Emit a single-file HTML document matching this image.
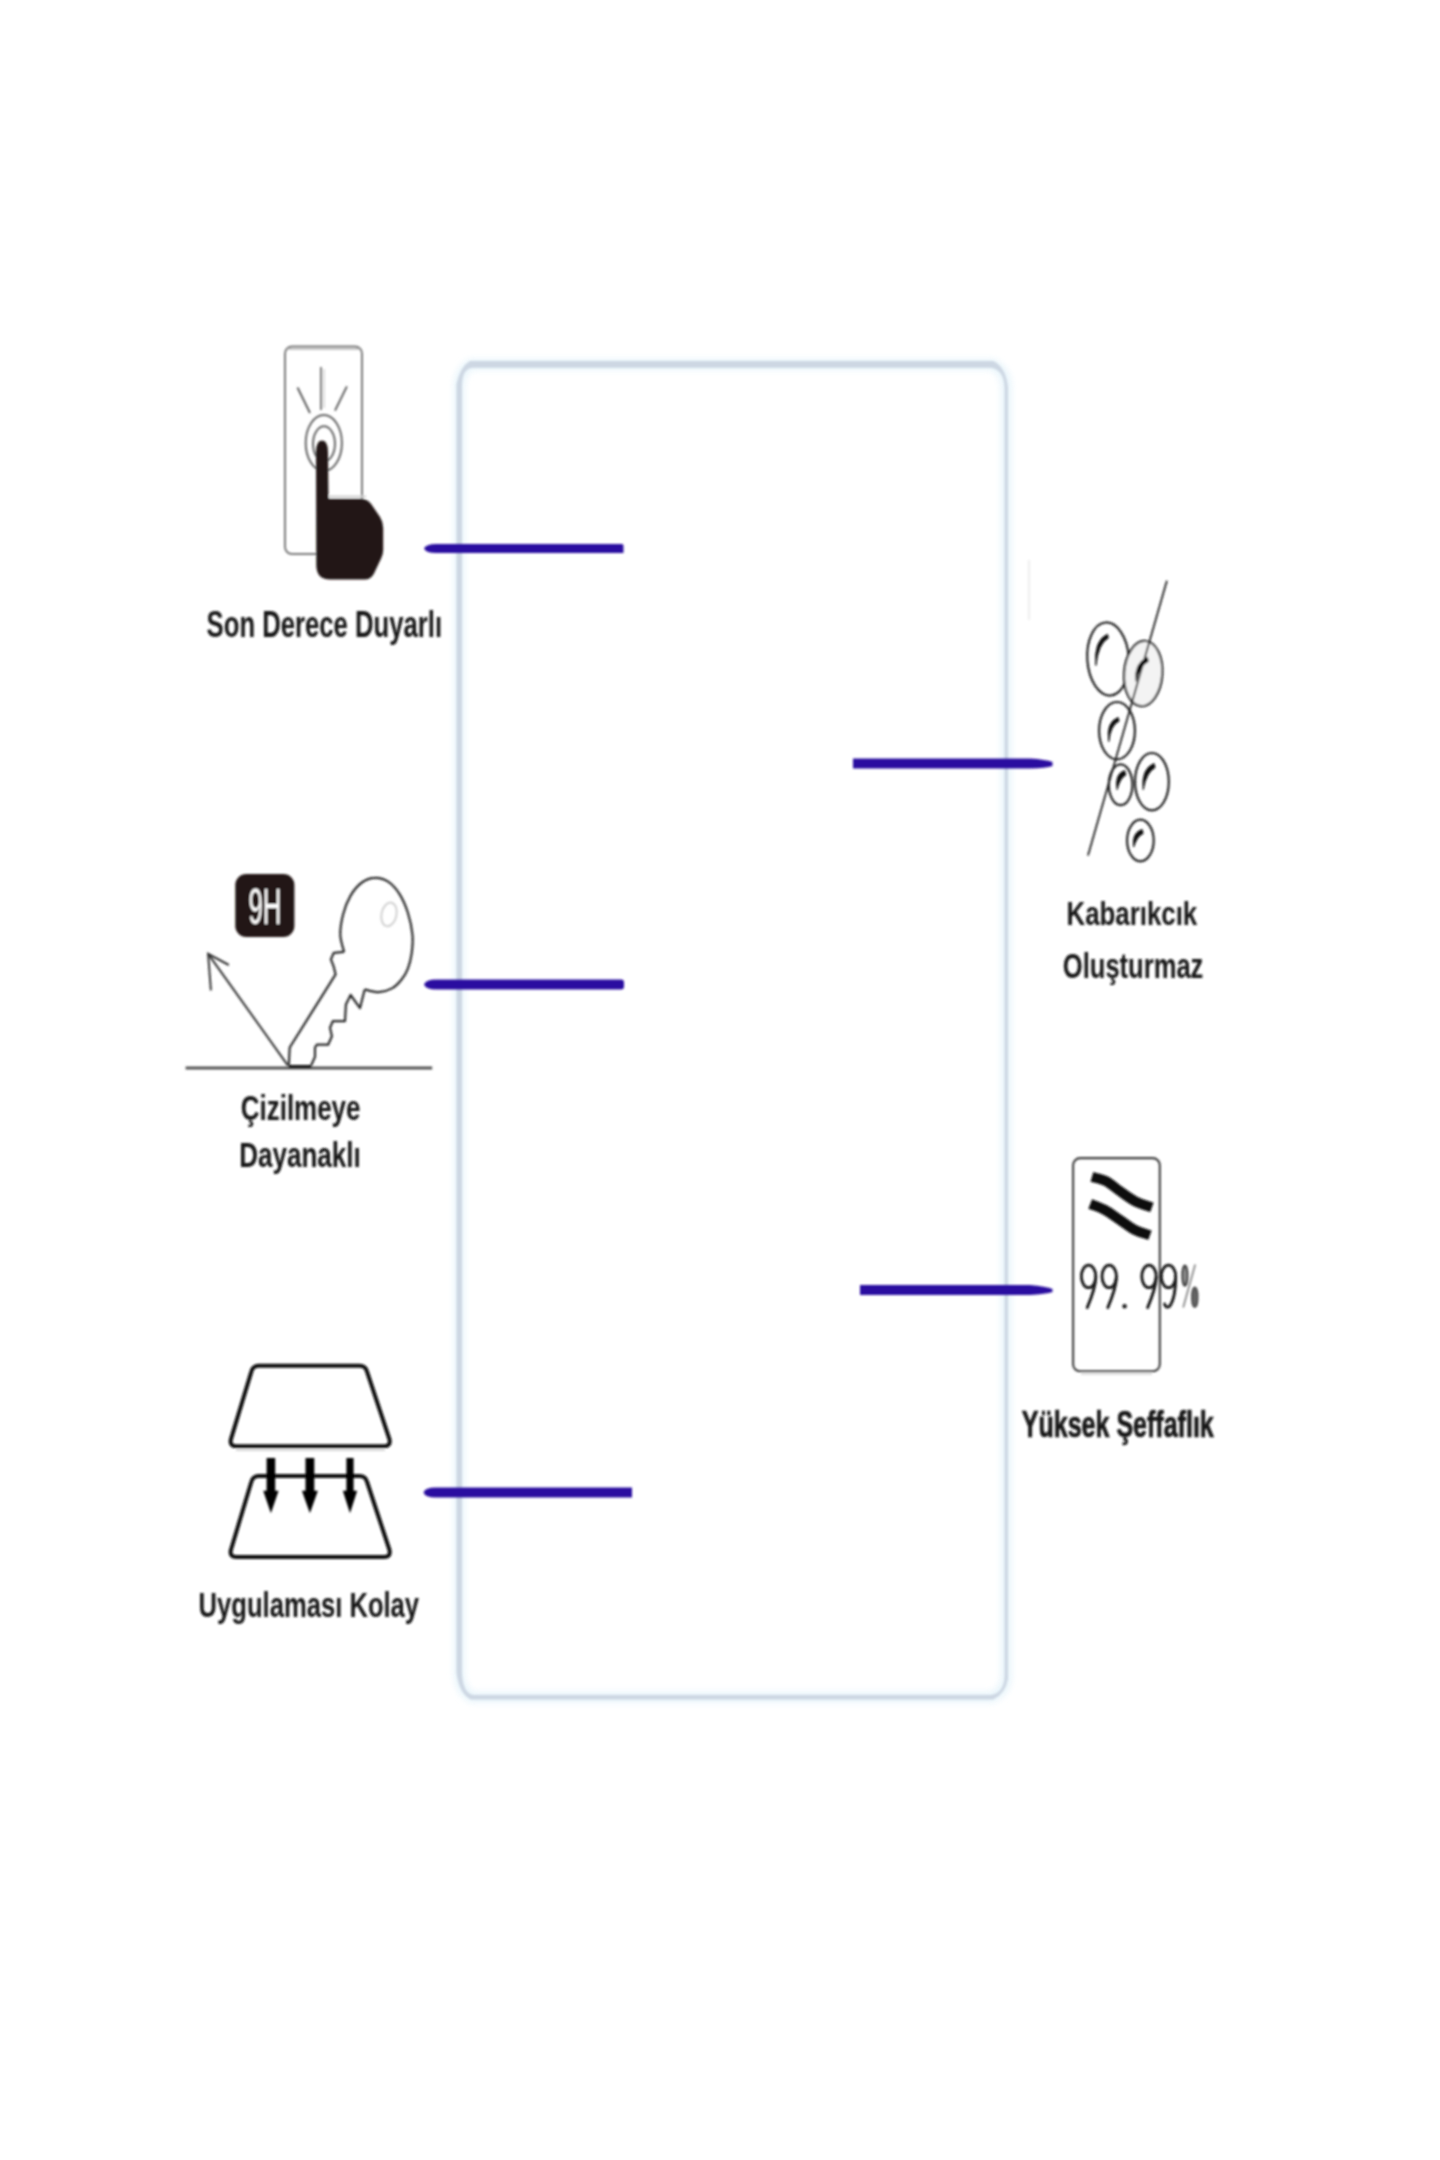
<!DOCTYPE html>
<html lang="tr">
<head>
<meta charset="utf-8">
<title>Ekran Koruyucu Özellikleri</title>
<style>
html,body{margin:0;padding:0;background:#ffffff;}
body{width:1440px;height:2160px;overflow:hidden;position:relative;font-family:"Liberation Sans",sans-serif;}
svg{position:absolute;left:0;top:0;display:block;}
.lbl{font-family:"Liberation Sans",sans-serif;font-weight:bold;fill:#161616;}
</style>
</head>
<body>
<svg width="1440" height="2160" viewBox="0 0 1440 2160">
<defs>
<filter id="soft" x="-5%" y="-5%" width="110%" height="110%"><feGaussianBlur stdDeviation="0.8"/></filter>
<filter id="soft2" x="-5%" y="-50%" width="110%" height="200%"><feGaussianBlur stdDeviation="0.9"/></filter>
<filter id="soft3" x="-5%" y="-5%" width="110%" height="110%"><feGaussianBlur stdDeviation="1.1"/></filter>
<filter id="glow" x="-5%" y="-5%" width="110%" height="110%"><feGaussianBlur stdDeviation="3"/></filter>
</defs>
<rect width="1440" height="2160" fill="#ffffff"/>

<!-- GLASS -->
<g id="glass">
<path d="M471,364.5 H992.5 Q1006.2,371 1006.2,387 V1678 Q1005.5,1690.5 992,1697.3 H472 Q459.5,1690.5 459.2,1673 V385 Q460,371 471,364.5 Z" fill="none" stroke="#e6f4fb" stroke-width="11" filter="url(#glow)" opacity="0.85"/>
<path fill-rule="evenodd" fill="#cdd7e3" filter="url(#soft3)" d="M470,361 H993 Q1005.5,366.5 1007.9,387 V1679 Q1005.5,1693.5 993,1699.6 H471 Q459.5,1694 456.5,1673 V384 Q460.5,366.5 470,361 Z M472.5,367.7 H991 Q1004,369.5 1004.6,388 V1677 Q1003.5,1693 991,1695 H473.5 Q462.5,1693.5 462,1672 V386 Q462,368.5 472.5,367.7 Z"/>
<line x1="474" y1="362.6" x2="990" y2="362.6" stroke="#ffffff" stroke-width="2.4" opacity="0.4" filter="url(#soft3)"/>
<line x1="459.2" y1="388" x2="459.2" y2="1672" stroke="#ffffff" stroke-width="6" opacity="0.34" filter="url(#soft3)"/>
<line x1="1006.2" y1="392" x2="1006.2" y2="1672" stroke="#ffffff" stroke-width="4" opacity="0.12" filter="url(#soft3)"/>
<line x1="467.5" y1="467.5" x2="646" y2="467.5" stroke="#f3f5f7" stroke-width="3" filter="url(#soft3)"/>
</g>

<!-- BLUE LINES -->
<g id="lines" fill="#2a10a0" filter="url(#soft2)">
<path d="M424,548.5 Q426,544 436,544 H622 Q623.5,544 623.5,546 V553 H436 Q426,553 424,548.5 Z"/>
<path d="M424,984.5 Q426,979.5 436,979.5 H621 Q624,979.5 624,982.5 V986.5 Q624,989.5 621,989.5 H436 Q426,989.5 424,984.5 Z"/>
<path d="M423.5,1492.5 Q425,1487.5 436,1487.5 H632 V1497.5 H436 Q425,1497.5 423.5,1492.5 Z"/>
<path d="M853,758.5 H1030 Q1046,759.5 1052.5,762 V766 Q1046,768 1030,768.5 H853 Z"/>
<path d="M860,1285 H1030 Q1046,1286.5 1052.5,1289 V1292 Q1046,1294 1030,1295 H860 Z"/>
</g>

<!-- LABELS -->
<g id="labels" filter="url(#soft)">
<text class="lbl" x="206.6" y="636.9" font-size="37" textLength="235.5" lengthAdjust="spacingAndGlyphs">Son Derece Duyarlı</text>
<text class="lbl" x="240.8" y="1119.6" font-size="35.5" textLength="119.6" lengthAdjust="spacingAndGlyphs">Çizilmeye</text>
<text class="lbl" x="239.2" y="1166.9" font-size="35.5" textLength="121.5" lengthAdjust="spacingAndGlyphs">Dayanaklı</text>
<text class="lbl" x="198.6" y="1617.2" font-size="35" textLength="220.5" lengthAdjust="spacingAndGlyphs">Uygulaması Kolay</text>
<text class="lbl" x="1066.6" y="925.2" font-size="34" textLength="130.6" lengthAdjust="spacingAndGlyphs">Kabarıkcık</text>
<text class="lbl" x="1062.8" y="977.6" font-size="35.5" textLength="140.6" lengthAdjust="spacingAndGlyphs">Oluşturmaz</text>
<text class="lbl" x="1021.8" y="1437.4" font-size="36.5" textLength="192" lengthAdjust="spacingAndGlyphs" stroke="#151515" stroke-width="0.7">Yüksek Şeffaflık</text>
</g>

<!-- ICONS -->
<!--B:icon-touch-->
<g id="icon-touch" filter="url(#soft)">
<rect x="285" y="346.5" width="77" height="207.5" rx="7" ry="7" fill="none" stroke="#7a7a7a" stroke-width="2"/>
<line x1="287" y1="349" x2="360" y2="349" stroke="#b5b5b5" stroke-width="1.5"/>
<line x1="321" y1="367" x2="321" y2="410" stroke="#7a7a7a" stroke-width="2"/>
<line x1="324" y1="369" x2="324" y2="408" stroke="#d0d0d0" stroke-width="1.5"/>
<line x1="297.5" y1="387.5" x2="310" y2="413" stroke="#555" stroke-width="1.8"/>
<line x1="346.9" y1="386.3" x2="335" y2="410.6" stroke="#555" stroke-width="1.8"/>
<ellipse cx="323.8" cy="443" rx="18.1" ry="28" fill="none" stroke="#666" stroke-width="2"/>
<ellipse cx="324" cy="443.8" rx="11" ry="17.5" fill="none" stroke="#666" stroke-width="2"/>
<line x1="329" y1="496.6" x2="366" y2="496.6" stroke="#cfcfcf" stroke-width="2"/>
<path d="M316,452 Q316,440.5 322,440.5 Q328,440.5 328,452 L328.5,498.8 L361,498.8 Q367.5,499 371.5,504.5 L380,517 Q383.2,522 383.2,528 L383.2,550 Q383.2,554 381.3,558 L374,573.5 Q371,579.5 364.5,579.5 L330,579.5 Q316.3,579.5 316.3,565 Z" fill="#231815"/>
</g>
<!--E:icon-touch-->
<!--B:icon-key-->
<g id="icon-key" filter="url(#soft)">
<rect x="235.3" y="874" width="59.1" height="63" rx="11" ry="11" fill="#231815"/>
<text x="248.4" y="923.8" font-family="Liberation Sans, sans-serif" font-size="50" fill="#fff" textLength="33" lengthAdjust="spacingAndGlyphs">9H</text>
<line x1="185.6" y1="1068" x2="432.2" y2="1068" stroke="#555" stroke-width="3.2"/>
<line x1="288.8" y1="1066.5" x2="311.2" y2="1066.5" stroke="#111" stroke-width="3"/>
<path d="M287.8,1065.3 L208.1,953.8" fill="none" stroke="#333" stroke-width="2"/>
<path d="M228.8,965.0 L208.1,953.8 L210.9,990.3" fill="none" stroke="#333" stroke-width="2"/>
<path d="M288.8,1065.3 L289.7,1047.5 L335.6,974.4 L333.8,966.9 L330.9,959.4 L333.8,952.8 L344.1,951.9" fill="none" stroke="#2a2a2a" stroke-width="2.2" stroke-linejoin="round"/>
<path d="M344.1,951.9 C343.5,949.1 340.5,941.2 340.3,935.0 C340.1,928.8 341.4,921.0 343.1,914.4 C344.8,907.8 347.5,900.9 350.6,895.6 C353.7,890.3 357.8,885.5 361.9,882.5 C366.0,879.5 370.6,877.9 375.0,877.8 C379.4,877.6 384.0,878.9 388.1,881.6 C392.2,884.3 396.1,888.6 399.4,893.8 C402.7,898.9 405.6,905.6 407.8,912.5 C410.0,919.4 411.9,928.1 412.5,935.0 C413.1,941.9 412.4,948.2 411.6,953.8 C410.8,959.4 409.5,964.4 407.8,968.8 C406.1,973.2 403.9,976.7 401.2,980.0 C398.5,983.3 395.6,986.4 391.9,988.4 C388.2,990.4 383.3,992.0 378.8,992.2 C374.3,992.4 367.1,989.9 364.7,989.4" fill="none" stroke="#2a2a2a" stroke-width="2.2"/>
<path d="M364.7,989.4 L360.0,1008.1 L350.6,995.0 L345.9,1004.4 L345.0,1021.2 L332.8,1021.2 L330.0,1027.8 L331.9,1036.2 L328.1,1044.7 L316.9,1044.7 L315.0,1047.5 L315.0,1056.9 L311.2,1065.3" fill="none" stroke="#2a2a2a" stroke-width="2.2" stroke-linejoin="round"/>
<ellipse cx="389" cy="914.4" rx="7.5" ry="12" fill="none" stroke="#d2d2d2" stroke-width="2" transform="rotate(12 389 914.4)"/>
</g>
<!--E:icon-key-->
<!--B:icon-apply-->
<g id="icon-apply" filter="url(#soft)">
<path d="M258.8,1365.8 H359.6 Q365.6,1365.8 367.1,1371.8 L389.5,1439.3 Q391.0,1446.3 384.0,1446.3 H236.4 Q229.4,1446.3 230.9,1439.3 L251.3,1371.8 Q252.8,1365.8 258.8,1365.8 Z" fill="none" stroke="#111" stroke-width="4" stroke-linejoin="round"/>
<line x1="236" y1="1450.3" x2="385" y2="1450.3" stroke="#cfcfcf" stroke-width="1.6"/>
<path d="M258.8,1476 H359.6 Q365.6,1476 367.1,1482 L389.5,1550 Q391.0,1557 384.0,1557 H236.4 Q229.4,1557 230.9,1550 L251.3,1482 Q252.8,1476 258.8,1476 Z" fill="none" stroke="#111" stroke-width="4" stroke-linejoin="round"/>
<path d="M266.59999999999997,1458 H275.2 V1490.7 H278.59999999999997 L270.9,1513.3 L263.2,1490.7 H266.59999999999997 Z" fill="#000"/>
<path d="M305.5,1458 H314.29999999999995 V1490.7 H317.9 L309.9,1513.3 L301.9,1490.7 H305.5 Z" fill="#000"/>
<path d="M346.4,1458 H353.6 V1490.7 H357.2 L350,1513.3 L342.8,1490.7 H346.4 Z" fill="#000"/>
</g>
<!--E:icon-apply-->
<!--B:icon-bubbles-->
<g id="icon-bubbles" filter="url(#soft)">
<line x1="1029" y1="560" x2="1029" y2="620" stroke="#f0f0f0" stroke-width="2.5"/>
<ellipse cx="1108.1" cy="659.0" rx="20.8" ry="36.6" fill="none" stroke="#222" stroke-width="2.2" transform="rotate(-4 1108.1 659.0)"/>
<ellipse cx="1143.2" cy="673.6" rx="19.1" ry="32.7" fill="#f3f3f3" stroke="#222" stroke-width="2.2" transform="rotate(4 1143.2 673.6)"/>
<ellipse cx="1117.0" cy="730.7" rx="17.9" ry="28.7" fill="none" stroke="#222" stroke-width="2.2" transform="rotate(0 1117.0 730.7)"/>
<ellipse cx="1120.6" cy="784.8" rx="11.8" ry="20.4" fill="none" stroke="#222" stroke-width="2.2" transform="rotate(0 1120.6 784.8)"/>
<ellipse cx="1151.9" cy="781.7" rx="16.9" ry="28.7" fill="none" stroke="#222" stroke-width="2.2" transform="rotate(0 1151.9 781.7)"/>
<ellipse cx="1140.4" cy="840.5" rx="13.3" ry="20.8" fill="none" stroke="#222" stroke-width="2.2" transform="rotate(0 1140.4 840.5)"/>
<path d="M1166.9,580.8 L1088.0,855.6" fill="none" stroke="#222" stroke-width="1.8"/>
<path d="M1107.4,634.3 Q1093.7,640.3 1095.9,665.4 Q1098.3,643.3 1108.4,637.9 Z" fill="#111" stroke="#111" stroke-width="1" stroke-linejoin="round"/>
<path d="M1147.3,657.3 Q1133.9,663.3 1136.1,681.2 Q1139.1,666.7 1148.4,661.3 Z" fill="#111" stroke="#111" stroke-width="1" stroke-linejoin="round"/>
<path d="M1118.1,717.5 Q1105.9,722.1 1108.8,741.5 Q1110.5,725.1 1119.1,721.1 Z" fill="#111" stroke="#111" stroke-width="1" stroke-linejoin="round"/>
<path d="M1124.6,770.6 Q1114.5,773.8 1117.1,789.6 Q1120.2,777.5 1125.8,775.1 Z" fill="#111" stroke="#111" stroke-width="1" stroke-linejoin="round"/>
<path d="M1154.0,763.5 Q1141.1,768.8 1143.2,789.6 Q1146.3,772.2 1155.1,767.5 Z" fill="#111" stroke="#111" stroke-width="1" stroke-linejoin="round"/>
<path d="M1142.1,829.5 Q1131.8,832.6 1133.6,847.0 Q1137.0,836.0 1143.2,833.5 Z" fill="#111" stroke="#111" stroke-width="1" stroke-linejoin="round"/>
</g>
<!--E:icon-bubbles-->
<!--B:icon-clear-->
<g id="icon-clear" filter="url(#soft)">
<rect x="1073.1" y="1158.1" width="86.7" height="213.2" rx="7" ry="7" fill="none" stroke="#3c3c3c" stroke-width="2.1"/>
<line x1="1081" y1="1374" x2="1152" y2="1374" stroke="#dedede" stroke-width="2"/>
<path d="M1091.9,1176.9 C1094.3,1177.6 1101.5,1178.8 1106.2,1181.2 C1110.9,1183.6 1115.2,1187.9 1120.0,1191.2 C1124.8,1194.5 1129.7,1198.5 1135.0,1201.2 C1140.3,1203.9 1149.1,1206.5 1151.9,1207.5" fill="none" stroke="#111" stroke-width="10"/>
<path d="M1090.2,1204.0 C1092.7,1205.0 1100.0,1207.3 1105.0,1210.0 C1110.0,1212.7 1115.0,1216.7 1120.0,1220.0 C1125.0,1223.3 1130.0,1227.5 1135.0,1230.0 C1140.0,1232.5 1147.5,1234.3 1150.0,1235.2" fill="none" stroke="#111" stroke-width="10"/>
<ellipse cx="1088.6" cy="1276.4" rx="7.2" ry="11.3" fill="none" stroke="#151515" stroke-width="2.8"/><path d="M1095.8,1277.4 Q1095.3999999999999,1288.4 1087.1999999999998,1307.6" fill="none" stroke="#151515" stroke-width="2.8" stroke-linecap="round"/><ellipse cx="1109.2" cy="1276.4" rx="7.2" ry="11.3" fill="none" stroke="#151515" stroke-width="2.8"/><path d="M1116.4,1277.4 Q1116.0,1288.4 1107.8,1307.6" fill="none" stroke="#151515" stroke-width="2.8" stroke-linecap="round"/><circle cx="1124.6" cy="1306.2" r="2.2" fill="#151515"/><ellipse cx="1149.0" cy="1276.4" rx="7.2" ry="11.3" fill="none" stroke="#151515" stroke-width="2.8"/><path d="M1156.2,1277.4 Q1155.8,1288.4 1147.6,1307.6" fill="none" stroke="#151515" stroke-width="2.8" stroke-linecap="round"/><ellipse cx="1168.5" cy="1276.4" rx="7.2" ry="11.3" fill="none" stroke="#151515" stroke-width="2.8"/><path d="M1175.7,1277.4 Q1175.5,1298.4 1169.5,1306.5 Q1166.0,1308.5 1164.5,1304" fill="none" stroke="#151515" stroke-width="2.8" stroke-linecap="round"/><ellipse cx="1184.9" cy="1275.6" rx="2.4" ry="10" fill="#9a9a9a" stroke="#3a3a3a" stroke-width="2.2"/><line x1="1195.2" y1="1264.5" x2="1183.2" y2="1307.5" stroke="#8a8a8a" stroke-width="1.8"/><ellipse cx="1194.8" cy="1297.3" rx="2.9" ry="10" fill="#666" stroke="#444" stroke-width="1.6"/>
</g>
<!--E:icon-clear-->
</svg>
</body>
</html>
